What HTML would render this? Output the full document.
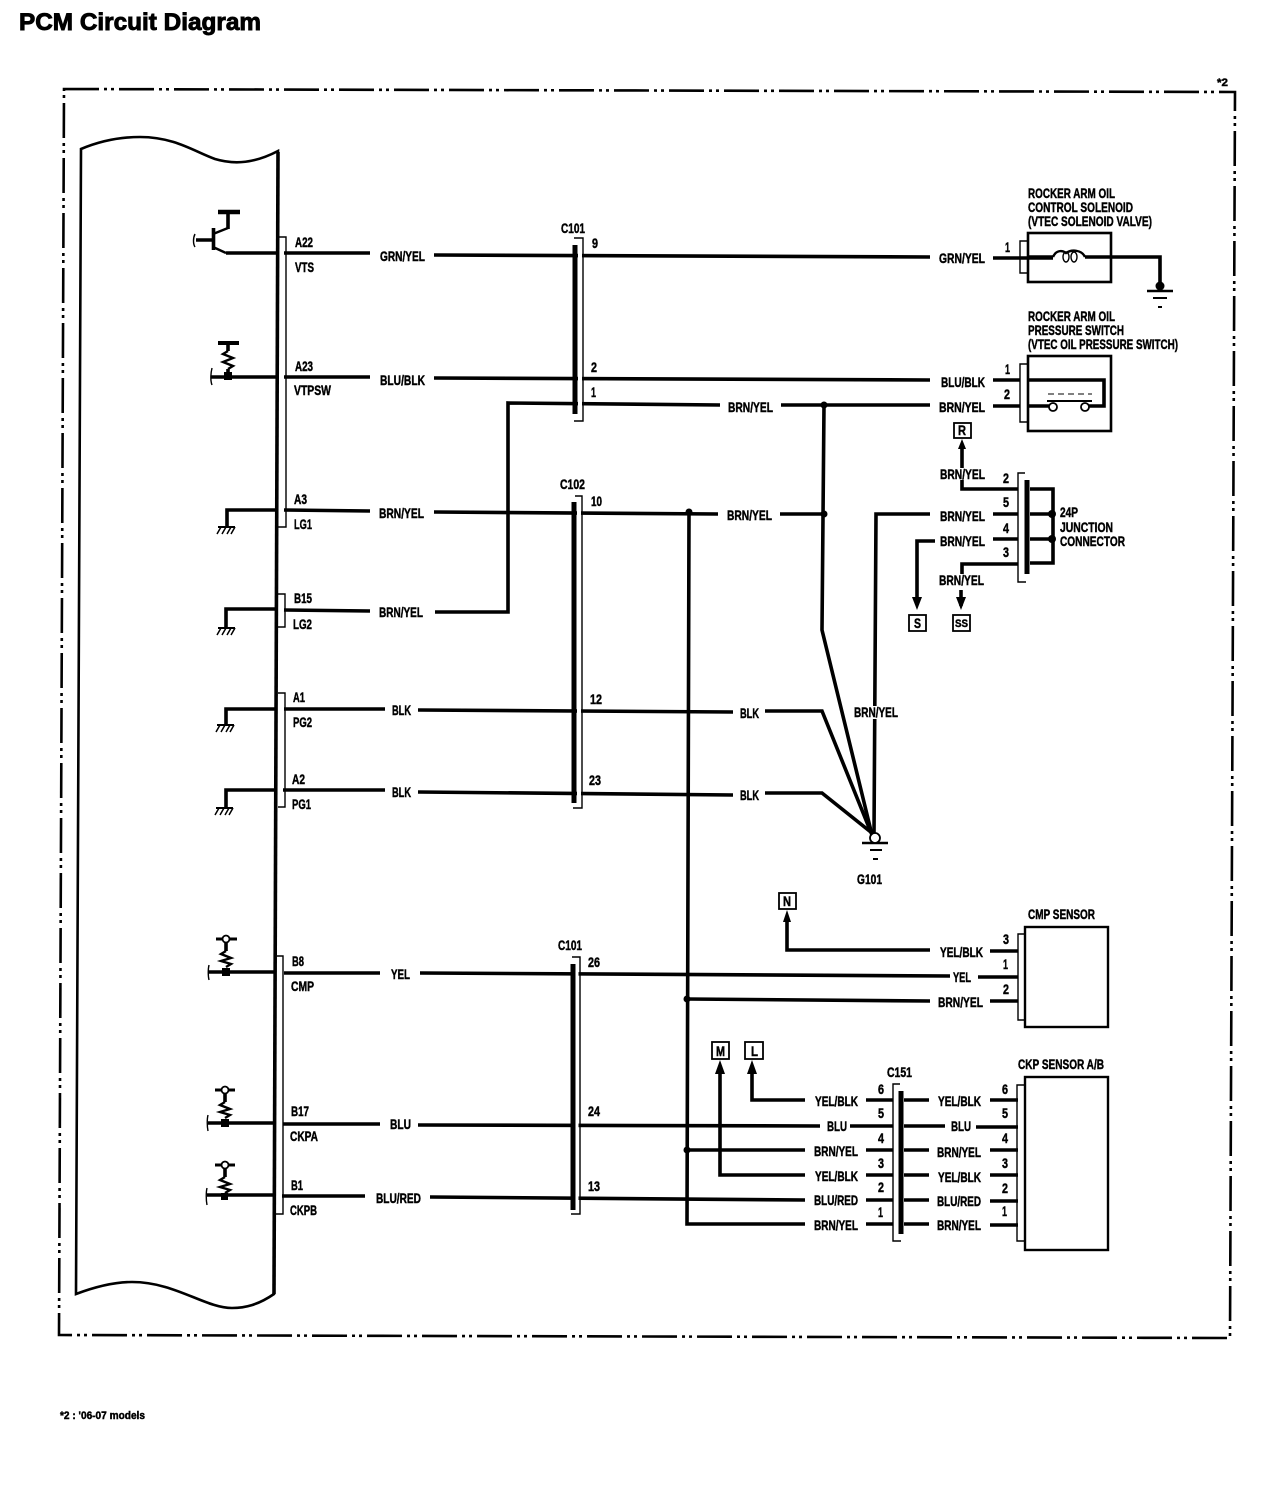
<!DOCTYPE html>
<html><head><meta charset="utf-8"><title>PCM Circuit Diagram</title>
<style>
html,body{margin:0;padding:0;background:#fff}
svg{display:block}
text{font-family:"Liberation Sans",sans-serif;font-weight:bold;font-size:13.5px;fill:#000;stroke:#000;stroke-width:.45}
.w{fill:none;stroke:#000;stroke-width:3.6;stroke-linejoin:miter}
.h{fill:none;stroke:#000;stroke-width:2.4}
.t{fill:none;stroke:#000;stroke-width:1.4}
.f{fill:none;stroke:#000;stroke-width:2.6;stroke-dasharray:35 5 3 4 3 5}
.bar{fill:none;stroke:#000;stroke-width:5}
.n{fill:#000;stroke:none}
.c{fill:#fff;stroke:#000;stroke-width:1.8}
</style></head>
<body>
<svg xmlns="http://www.w3.org/2000/svg" width="1280" height="1494" viewBox="0 0 1280 1494">
<rect width="1280" height="1494" fill="#fff"/>
<text x="19" y="30" textLength="242" lengthAdjust="spacingAndGlyphs" style="font-size:24px;stroke-width:.9">PCM Circuit Diagram</text>
<text x="1217" y="86" textLength="11" lengthAdjust="spacingAndGlyphs" style="font-size:11px">*2</text>
<text x="60" y="1419" textLength="85" lengthAdjust="spacingAndGlyphs" style="font-size:11px">*2 : '06-07 models</text>

<path class="f" d="M64 89L1235 92L1230 1338L59 1335Z"/>

<path fill="none" stroke="#000" stroke-width="2.6" d="M81 149C100 141 120 137 140 137C175 137 195 152 215 159C235 165 255 163 278 151L274 1294C258 1305 245 1308 232 1308C205 1308 175 1282 132 1282C112 1282 92 1288 76 1294Z"/>
<path d="M278 152L274 1294" stroke="#000" stroke-width="3.6" fill="none"/>

<!-- PCM brackets -->
<path class="t" d="M278 237H286V527H278"/>
<path class="t" d="M278 594H285V627H278"/>
<path class="t" d="M278 693H285V807H278"/>
<path class="t" d="M277 956H283V1214H275"/>

<!-- PCM pin labels -->
<g>
<text x="295" y="247" textLength="18" lengthAdjust="spacingAndGlyphs">A22</text>
<text x="295" y="272" textLength="19" lengthAdjust="spacingAndGlyphs">VTS</text>
<text x="295" y="371" textLength="18" lengthAdjust="spacingAndGlyphs">A23</text>
<text x="294" y="395" textLength="37" lengthAdjust="spacingAndGlyphs">VTPSW</text>
<text x="294" y="504" textLength="13" lengthAdjust="spacingAndGlyphs">A3</text>
<text x="294" y="529" textLength="18" lengthAdjust="spacingAndGlyphs">LG1</text>
<text x="294" y="603" textLength="18" lengthAdjust="spacingAndGlyphs">B15</text>
<text x="293" y="629" textLength="19" lengthAdjust="spacingAndGlyphs">LG2</text>
<text x="293" y="702" textLength="12" lengthAdjust="spacingAndGlyphs">A1</text>
<text x="293" y="727" textLength="19" lengthAdjust="spacingAndGlyphs">PG2</text>
<text x="292" y="784" textLength="13" lengthAdjust="spacingAndGlyphs">A2</text>
<text x="292" y="809" textLength="19" lengthAdjust="spacingAndGlyphs">PG1</text>
<text x="292" y="966" textLength="12" lengthAdjust="spacingAndGlyphs">B8</text>
<text x="291" y="991" textLength="23" lengthAdjust="spacingAndGlyphs">CMP</text>
<text x="291" y="1116" textLength="18" lengthAdjust="spacingAndGlyphs">B17</text>
<text x="290" y="1141" textLength="28" lengthAdjust="spacingAndGlyphs">CKPA</text>
<text x="291" y="1190" textLength="12" lengthAdjust="spacingAndGlyphs">B1</text>
<text x="290" y="1215" textLength="27" lengthAdjust="spacingAndGlyphs">CKPB</text>
</g>

<!-- Transistor -->
<path d="M195 234C193 238 193 244 195 247" class="t"/>
<path class="w" d="M196 240H213"/>
<path class="w" d="M213.500 228V250"/>
<path class="h" d="M213 234L228 228"/>
<path class="w" d="M228 229V212"/>
<path d="M218 212H240" stroke="#000" stroke-width="4.500"/>
<path class="h" d="M213 247L226 253"/>
<path class="w" d="M226 253H276"/>

<!-- Pull-ups -->
<g>
<path d="M218 343H239" stroke="#000" stroke-width="4"/>
<path class="w" d="M228 343V351"/>
<path class="h" d="M228 351L223 354L233 358L223 362L233 366L228 369"/>
<path class="w" d="M228 369V377"/>
<rect class="n" x="224" y="372" width="8" height="8"/>
</g>
<path d="M212 368C211 372 210 380 212 385" class="t"/>
<g>
<path d="M216 939H237" stroke="#000" stroke-width="3"/>
<circle cx="226" cy="939" r="3.500" class="c"/>
<path class="w" d="M226 943V951"/>
<path class="h" d="M226 951L221 954L231 958L221 961L231 964L226 967"/>
<rect class="n" x="222" y="968" width="8" height="8"/>
</g>
<path d="M209 965C208 969 208 976 209 980" class="t"/>
<g>
<path d="M215 1090H235" stroke="#000" stroke-width="3"/>
<circle cx="225" cy="1090" r="3.500" class="c"/>
<path class="w" d="M225 1094V1102"/>
<path class="h" d="M225 1102L220 1105L230 1109L220 1112L230 1115L225 1118"/>
<rect class="n" x="221" y="1119" width="8" height="8"/>
</g>
<path d="M208 1115C207 1119 207 1126 208 1131" class="t"/>
<g>
<path d="M215 1165H235" stroke="#000" stroke-width="3"/>
<circle cx="225" cy="1165" r="3.500" class="c"/>
<path class="w" d="M225 1169V1177"/>
<path class="h" d="M225 1177L220 1180L230 1184L220 1187L230 1190L225 1193"/>
<rect class="n" x="221" y="1193" width="7" height="7"/>
</g>
<path d="M207 1188C206 1192 206 1200 207 1205" class="t"/>

<!-- Wires -->
<g class="w">
<path d="M284 253H370"/>
<path d="M434 255L930 257"/>
<path d="M211 377H276"/>
<path d="M284 377H370"/>
<path d="M434 378L930 380"/>
<path d="M435 612H508V403L720 405"/>
<path d="M781 405H930"/>
<path d="M227 527V510H276"/>
<path d="M284 510L370 511"/>
<path d="M434 512L718 514"/>
<path d="M780 514H824"/>
<path d="M226 628V609H276"/>
<path d="M284 610L370 611"/>
<path d="M226 725V709H277"/>
<path d="M284 709H385"/>
<path d="M418 710L733 712"/>
<path d="M765 711H822L872 835"/>
<path d="M226 808V790H276"/>
<path d="M283 790H385"/>
<path d="M418 792L733 795"/>
<path d="M765 793H822L872 833"/>
<path d="M824 405L822 630L872 835"/>
<path d="M874 835L876 514H930"/>
<path d="M689 512L687 1224H805"/>
<path d="M993 258H1053"/>
<path d="M1085 257H1160V286"/>
<path d="M993 380H1020"/>
<path d="M1028 380H1104V406H1088"/>
<path d="M993 406H1020"/>
<path d="M1028 406H1049"/>
<path d="M962 445V489H1018"/>
<path d="M993 514H1018"/>
<path d="M1030 514H1053"/>
<path d="M1030 489H1053V563H1030"/>
<path d="M993 539H1018"/>
<path d="M1030 539H1053"/>
<path d="M935 541H917V600"/>
<path d="M962 576V564H1018"/>
<path d="M961 590V606"/>
<path d="M208 972H276"/>
<path d="M284 973H380"/>
<path d="M420 973L950 976"/>
<path d="M978 977H1018"/>
<path d="M787 920V950H930"/>
<path d="M990 951H1018"/>
<path d="M687 999L930 1001"/>
<path d="M990 1001H1018"/>
<path d="M208 1123H275"/>
<path d="M283 1124H380"/>
<path d="M418 1125L820 1126"/>
<path d="M207 1195H275"/>
<path d="M282 1196H365"/>
<path d="M430 1197L805 1200"/>
<path d="M752 1072V1100H805"/>
<path d="M720 1072V1175H805"/>
<path d="M687 1150H805"/>
<path d="M866 1100H893"/>
<path d="M850 1126H893"/>
<path d="M866 1150H893"/>
<path d="M866 1175H893"/>
<path d="M866 1200H893"/>
<path d="M866 1224H893"/>
<path d="M904 1100H929"/>
<path d="M904 1126H945"/>
<path d="M904 1150H929"/>
<path d="M904 1175H929"/>
<path d="M904 1200H929"/>
<path d="M904 1224H929"/>
<path d="M990 1100H1018"/>
<path d="M976 1127H1018"/>
<path d="M990 1150H1018"/>
<path d="M990 1175H1018"/>
<path d="M990 1201H1018"/>
<path d="M990 1225H1018"/>
</g>

<!-- White channels between connector bars and brackets -->
<rect x="578" y="240" width="4" height="180" fill="#fff"/>
<rect x="577" y="497" width="4" height="310" fill="#fff"/>
<rect x="575.500" y="958" width="3" height="255" fill="#fff"/>

<!-- Connector bars -->
<path class="bar" d="M575 245V414"/><path class="t" d="M574 238H583V421H574"/>
<path class="bar" d="M574 502V803"/><path class="t" d="M575 496H582V808H573"/>
<path class="bar" d="M573 964V1210"/><path class="t" d="M572 957H580V1214H571"/>
<path class="bar" d="M901 1091V1234"/><path class="t" d="M900 1084H893V1241H901"/>
<path class="bar" d="M1027 480V574"/><path class="t" d="M1025 473H1018V582H1026"/>

<!-- Nodes -->
<circle class="n" cx="824" cy="405" r="3.500"/>
<circle class="n" cx="824" cy="514" r="3.500"/>
<circle class="n" cx="689" cy="512" r="3.500"/>
<circle class="n" cx="687" cy="999" r="3.500"/>
<circle class="n" cx="687" cy="1150" r="3.500"/>
<circle class="n" cx="1052" cy="514" r="4"/>
<circle class="n" cx="1052" cy="539" r="4"/>
<circle class="n" cx="1160" cy="286" r="4.500"/>

<!-- Grounds -->
<g fill="none" stroke="#000">
<g stroke-width="1.5"><path d="M218 527H235" stroke-width="2"/><path d="M221 527L217 534M226 527L222 534M231 527L227 534M235 527L231 534"/></g>
<g stroke-width="1.5"><path d="M218 628H235" stroke-width="2"/><path d="M221 628L217 635M226 628L222 635M231 628L227 635M235 628L231 635"/></g>
<g stroke-width="1.5"><path d="M217 725H234" stroke-width="2"/><path d="M220 725L216 732M225 725L221 732M230 725L226 732M234 725L230 732"/></g>
<g stroke-width="1.5"><path d="M216 808H233" stroke-width="2"/><path d="M219 808L215 815M224 808L220 815M229 808L225 815M233 808L229 815"/></g>
<path d="M1147 291H1173" stroke-width="2.400"/><path d="M1153 298H1167" stroke-width="2"/><path d="M1158 307H1162" stroke-width="2"/>
<path d="M862 843H888" stroke-width="2.400"/><path d="M870 850H882" stroke-width="2"/><path d="M873 859H878" stroke-width="2"/>
</g>
<circle class="c" cx="875" cy="838" r="5"/>

<!-- Solenoid -->
<rect x="1028" y="233" width="83" height="49" class="h" style="stroke-width:2.600"/>
<path class="t" d="M1028 241H1020V273H1028"/>
<path class="w" d="M1028 257H1053"/>
<path class="h" d="M1053 257C1056 250 1062 250 1066 253C1072 249 1082 250 1085 257"/>
<ellipse cx="1066" cy="257" rx="3" ry="5" class="t"/><ellipse cx="1074" cy="257" rx="3" ry="5" class="t"/>

<!-- Pressure switch -->
<rect x="1028" y="356" width="83" height="75" class="h" style="stroke-width:2.600"/>
<path class="t" d="M1028 364H1020V422H1028"/>
<path d="M1047 401H1092" stroke="#000" stroke-width="2"/>
<path d="M1048 394H1092" stroke="#000" stroke-width="1" stroke-dasharray="6 4"/>
<circle class="c" cx="1053" cy="407" r="4"/><circle class="c" cx="1085" cy="407" r="4"/>

<!-- Sensor boxes -->
<rect x="1025" y="927" width="83" height="100" class="h"/>
<path class="t" d="M1025 934H1018V1020H1025"/>
<rect x="1025" y="1077" width="83" height="173" class="h"/>
<path class="t" d="M1025 1085H1017V1241H1025"/>

<!-- Arrows -->
<path class="n" d="M962 439L966 449H958Z"/>
<path class="n" d="M917 610L912 597H922Z"/>
<path class="n" d="M961 610L956 597H966Z"/>
<path class="n" d="M787 910L791 922H783Z"/>
<path class="n" d="M720 1060L725 1074H715Z"/>
<path class="n" d="M752 1060L757 1074H747Z"/>

<!-- Boxed references -->
<g class="h" style="stroke-width:1.800">
<rect x="954" y="423" width="17" height="15"/>
<rect x="909" y="615" width="17" height="16"/>
<rect x="953" y="615" width="17" height="16"/>
<rect x="779" y="893" width="17" height="16"/>
<rect x="712" y="1042" width="17" height="17"/>
<rect x="745" y="1042" width="18" height="17"/>
</g>
<text x="958" y="435" textLength="8" lengthAdjust="spacingAndGlyphs">R</text>
<text x="914" y="628" textLength="7" lengthAdjust="spacingAndGlyphs">S</text>
<text x="955" y="627" textLength="13" lengthAdjust="spacingAndGlyphs" style="font-size:11px">SS</text>
<text x="783" y="906" textLength="8" lengthAdjust="spacingAndGlyphs">N</text>
<text x="716" y="1056" textLength="9" lengthAdjust="spacingAndGlyphs">M</text>
<text x="751" y="1056" textLength="7" lengthAdjust="spacingAndGlyphs">L</text>

<!-- Wire labels -->
<g>
<text x="380" y="261" textLength="45" lengthAdjust="spacingAndGlyphs">GRN/YEL</text>
<text x="939" y="263" textLength="46" lengthAdjust="spacingAndGlyphs">GRN/YEL</text>
<text x="380" y="385" textLength="45" lengthAdjust="spacingAndGlyphs">BLU/BLK</text>
<text x="941" y="387" textLength="44" lengthAdjust="spacingAndGlyphs">BLU/BLK</text>
<text x="728" y="412" textLength="45" lengthAdjust="spacingAndGlyphs">BRN/YEL</text>
<text x="939" y="412" textLength="46" lengthAdjust="spacingAndGlyphs">BRN/YEL</text>
<rect x="938" y="468" width="48" height="12" fill="#fff"/>
<text x="940" y="479" textLength="45" lengthAdjust="spacingAndGlyphs">BRN/YEL</text>
<text x="379" y="518" textLength="45" lengthAdjust="spacingAndGlyphs">BRN/YEL</text>
<text x="727" y="520" textLength="45" lengthAdjust="spacingAndGlyphs">BRN/YEL</text>
<text x="940" y="521" textLength="45" lengthAdjust="spacingAndGlyphs">BRN/YEL</text>
<text x="940" y="546" textLength="45" lengthAdjust="spacingAndGlyphs">BRN/YEL</text>
<rect x="938" y="574" width="48" height="12" fill="#fff"/>
<text x="939" y="585" textLength="45" lengthAdjust="spacingAndGlyphs">BRN/YEL</text>
<text x="379" y="617" textLength="44" lengthAdjust="spacingAndGlyphs">BRN/YEL</text>
<text x="392" y="715" textLength="19" lengthAdjust="spacingAndGlyphs">BLK</text>
<text x="740" y="718" textLength="19" lengthAdjust="spacingAndGlyphs">BLK</text>
<text x="392" y="797" textLength="19" lengthAdjust="spacingAndGlyphs">BLK</text>
<text x="740" y="800" textLength="19" lengthAdjust="spacingAndGlyphs">BLK</text>
<rect x="853" y="706" width="46" height="13" fill="#fff"/>
<text x="854" y="717" textLength="44" lengthAdjust="spacingAndGlyphs">BRN/YEL</text>
<text x="391" y="979" textLength="19" lengthAdjust="spacingAndGlyphs">YEL</text>
<text x="953" y="982" textLength="18" lengthAdjust="spacingAndGlyphs">YEL</text>
<text x="940" y="957" textLength="43" lengthAdjust="spacingAndGlyphs">YEL/BLK</text>
<text x="938" y="1007" textLength="45" lengthAdjust="spacingAndGlyphs">BRN/YEL</text>
<text x="390" y="1129" textLength="21" lengthAdjust="spacingAndGlyphs">BLU</text>
<text x="376" y="1203" textLength="45" lengthAdjust="spacingAndGlyphs">BLU/RED</text>
<text x="815" y="1106" textLength="43" lengthAdjust="spacingAndGlyphs">YEL/BLK</text>
<text x="827" y="1131" textLength="20" lengthAdjust="spacingAndGlyphs">BLU</text>
<text x="814" y="1156" textLength="44" lengthAdjust="spacingAndGlyphs">BRN/YEL</text>
<text x="815" y="1181" textLength="43" lengthAdjust="spacingAndGlyphs">YEL/BLK</text>
<text x="814" y="1205" textLength="44" lengthAdjust="spacingAndGlyphs">BLU/RED</text>
<text x="814" y="1230" textLength="44" lengthAdjust="spacingAndGlyphs">BRN/YEL</text>
<text x="938" y="1106" textLength="43" lengthAdjust="spacingAndGlyphs">YEL/BLK</text>
<text x="951" y="1131" textLength="20" lengthAdjust="spacingAndGlyphs">BLU</text>
<text x="937" y="1157" textLength="44" lengthAdjust="spacingAndGlyphs">BRN/YEL</text>
<text x="938" y="1182" textLength="43" lengthAdjust="spacingAndGlyphs">YEL/BLK</text>
<text x="937" y="1206" textLength="44" lengthAdjust="spacingAndGlyphs">BLU/RED</text>
<text x="937" y="1230" textLength="44" lengthAdjust="spacingAndGlyphs">BRN/YEL</text>
</g>

<!-- Connector labels and pin numbers -->
<g>
<text x="561" y="233" textLength="24" lengthAdjust="spacingAndGlyphs">C101</text>
<text x="560" y="489" textLength="25" lengthAdjust="spacingAndGlyphs">C102</text>
<text x="558" y="950" textLength="24" lengthAdjust="spacingAndGlyphs">C101</text>
<text x="887" y="1077" textLength="25" lengthAdjust="spacingAndGlyphs">C151</text>
<text x="857" y="884" textLength="25" lengthAdjust="spacingAndGlyphs">G101</text>
<text x="592" y="248" textLength="6" lengthAdjust="spacingAndGlyphs">9</text>
<text x="591" y="372" textLength="6" lengthAdjust="spacingAndGlyphs">2</text>
<text x="591" y="397" textLength="5" lengthAdjust="spacingAndGlyphs">1</text>
<text x="591" y="506" textLength="11" lengthAdjust="spacingAndGlyphs">10</text>
<text x="590" y="704" textLength="12" lengthAdjust="spacingAndGlyphs">12</text>
<text x="589" y="785" textLength="12" lengthAdjust="spacingAndGlyphs">23</text>
<text x="588" y="967" textLength="12" lengthAdjust="spacingAndGlyphs">26</text>
<text x="588" y="1116" textLength="12" lengthAdjust="spacingAndGlyphs">24</text>
<text x="588" y="1191" textLength="12" lengthAdjust="spacingAndGlyphs">13</text>
<text x="1005" y="252" textLength="5" lengthAdjust="spacingAndGlyphs">1</text>
<text x="1005" y="374" textLength="5" lengthAdjust="spacingAndGlyphs">1</text>
<text x="1004" y="399" textLength="6" lengthAdjust="spacingAndGlyphs">2</text>
<text x="1003" y="483" textLength="6" lengthAdjust="spacingAndGlyphs">2</text>
<text x="1003" y="507" textLength="6" lengthAdjust="spacingAndGlyphs">5</text>
<text x="1003" y="533" textLength="6" lengthAdjust="spacingAndGlyphs">4</text>
<text x="1003" y="557" textLength="6" lengthAdjust="spacingAndGlyphs">3</text>
<text x="1003" y="944" textLength="6" lengthAdjust="spacingAndGlyphs">3</text>
<text x="1003" y="969" textLength="5" lengthAdjust="spacingAndGlyphs">1</text>
<text x="1003" y="994" textLength="6" lengthAdjust="spacingAndGlyphs">2</text>
<text x="878" y="1094" textLength="6" lengthAdjust="spacingAndGlyphs">6</text>
<text x="878" y="1118" textLength="6" lengthAdjust="spacingAndGlyphs">5</text>
<text x="878" y="1143" textLength="6" lengthAdjust="spacingAndGlyphs">4</text>
<text x="878" y="1168" textLength="6" lengthAdjust="spacingAndGlyphs">3</text>
<text x="878" y="1192" textLength="6" lengthAdjust="spacingAndGlyphs">2</text>
<text x="878" y="1217" textLength="5" lengthAdjust="spacingAndGlyphs">1</text>
<text x="1002" y="1094" textLength="6" lengthAdjust="spacingAndGlyphs">6</text>
<text x="1002" y="1118" textLength="6" lengthAdjust="spacingAndGlyphs">5</text>
<text x="1002" y="1143" textLength="6" lengthAdjust="spacingAndGlyphs">4</text>
<text x="1002" y="1168" textLength="6" lengthAdjust="spacingAndGlyphs">3</text>
<text x="1002" y="1193" textLength="6" lengthAdjust="spacingAndGlyphs">2</text>
<text x="1002" y="1216" textLength="5" lengthAdjust="spacingAndGlyphs">1</text>
</g>

<!-- Component titles -->
<g>
<text x="1028" y="198" textLength="87" lengthAdjust="spacingAndGlyphs">ROCKER ARM OIL</text>
<text x="1028" y="212" textLength="105" lengthAdjust="spacingAndGlyphs">CONTROL SOLENOID</text>
<text x="1028" y="226" textLength="124" lengthAdjust="spacingAndGlyphs">(VTEC SOLENOID VALVE)</text>
<text x="1028" y="321" textLength="87" lengthAdjust="spacingAndGlyphs">ROCKER ARM OIL</text>
<text x="1028" y="335" textLength="96" lengthAdjust="spacingAndGlyphs">PRESSURE SWITCH</text>
<text x="1028" y="349" textLength="150" lengthAdjust="spacingAndGlyphs">(VTEC OIL PRESSURE SWITCH)</text>
<text x="1060" y="517" textLength="18" lengthAdjust="spacingAndGlyphs">24P</text>
<text x="1060" y="532" textLength="53" lengthAdjust="spacingAndGlyphs">JUNCTION</text>
<text x="1060" y="546" textLength="65" lengthAdjust="spacingAndGlyphs">CONNECTOR</text>
<text x="1028" y="919" textLength="67" lengthAdjust="spacingAndGlyphs">CMP SENSOR</text>
<text x="1018" y="1069" textLength="86" lengthAdjust="spacingAndGlyphs">CKP SENSOR A/B</text>
</g>
</svg>
</body></html>
